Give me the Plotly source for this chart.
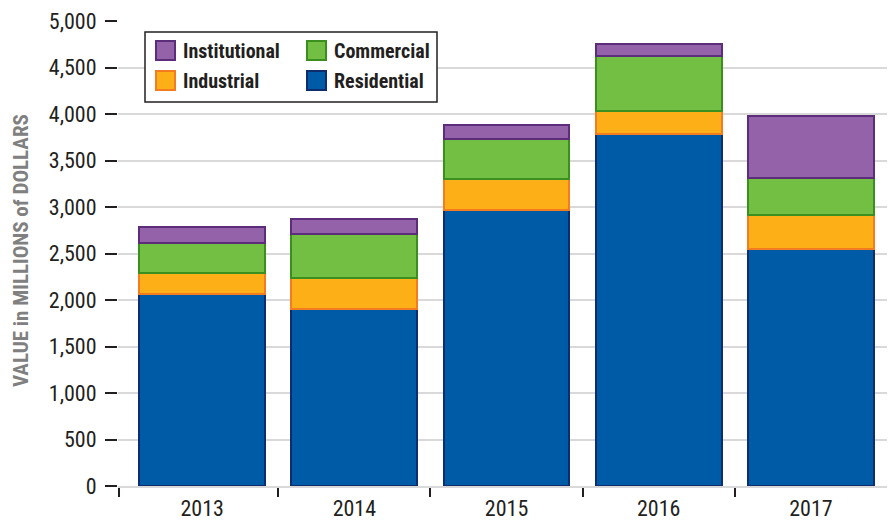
import plotly.graph_objects as go

# Values in millions of dollars
years = ['2013', '2014', '2015', '2016', '2017']
residential = [2065, 1905, 2965, 3785, 2550]
industrial = [222, 332, 335, 250, 361]
commercial = [322, 475, 436, 586, 404]
institutional = [178, 154, 143, 135, 664]

y_ticks = [0, 500, 1000, 1500, 2000, 2500, 3000, 3500, 4000, 4500, 5000]

FONT = 'Roboto Condensed, Roboto, sans-serif'
INK = '#231F20'

# name, values, fill, outline
series = [
    ('Residential', residential, '#005BA6', '#0F2D6E'),
    ('Industrial', industrial, '#FCAF17', '#F47C20'),
    ('Commercial', commercial, '#72BF44', '#3A8F1E'),
    ('Institutional', institutional, '#9462A8', '#5C2D7A'),
]

xpos = list(range(len(years)))

fig = go.Figure()
for name, vals, fill, edge in series:
    fig.add_trace(go.Bar(
        x=xpos, y=vals, name=name, showlegend=False,
        marker=dict(color=fill, line=dict(color=edge, width=2)),
    ))

# plot area in pixels (for placing the hand-made legend)
L, R, T, B = 118, 887, 21, 486
px = lambda x: (x - L) / (R - L)
py = lambda y: (B - y) / (B - T)

shapes = [dict(type='rect', xref='paper', yref='paper', layer='above',
               x0=px(145), x1=px(437), y0=py(102), y1=py(32),
               fillcolor='white', line=dict(color=INK, width=1.5))]
annotations = []
# legend layout: two rows, two columns
legend_slots = {'Institutional': (156, 41), 'Commercial': (307, 41),
                'Industrial': (156, 71), 'Residential': (307, 71)}
for name, vals, fill, edge in series:
    sx, sy = legend_slots[name]
    shapes.append(dict(type='rect', xref='paper', yref='paper', layer='above',
                       x0=px(sx), x1=px(sx + 19), y0=py(sy + 19), y1=py(sy),
                       fillcolor=fill, line=dict(color=edge, width=2)))
    annotations.append(dict(x=px(sx + 25), y=py(sy + 10), xref='paper', yref='paper',
                            xanchor='left', yanchor='middle', showarrow=False, text=name,
                            font=dict(family=FONT, size=20, color=INK, weight='bold')))

# rotated axis title
annotations.append(dict(x=px(21), y=py(251), xref='paper', yref='paper', textangle=-90,
                        xanchor='center', yanchor='middle', showarrow=False,
                        text='VALUE in MILLIONS of DOLLARS',
                        font=dict(family=FONT, size=21, color='#808080', weight='bold')))

fig.update_layout(
    barmode='stack',
    bargap=0.173,
    width=888, height=520,
    margin=dict(l=L, r=888 - R, t=T, b=520 - B, autoexpand=False),
    plot_bgcolor='white',
    paper_bgcolor='white',
    font=dict(family=FONT, color=INK, size=18),
    shapes=shapes,
    annotations=annotations,
)

fig.update_yaxes(
    range=[0, 5000], tickvals=y_ticks, tickformat=',', automargin=False,
    ticks='outside', ticklen=12, tickwidth=2, tickcolor=INK,
    ticklabelstandoff=4, tickfont=dict(size=22),
    showgrid=True, gridcolor='#D9D9D9', gridwidth=2,
    zeroline=False, showline=False,
)
# a little extra room before the first category; boundary ticks drawn as minor ticks
x_lo = -0.553
fig.update_xaxes(
    range=[x_lo, len(years) - 0.5],
    tickvals=xpos, ticktext=years, ticks='',
    minor=dict(tickvals=[x_lo + 0.004] + [i + 0.5 for i in xpos[:-1]],
               ticks='outside', ticklen=9, tickwidth=2, tickcolor=INK, showgrid=False),
    showline=True, linecolor='#D9D9D9', linewidth=2,
    showgrid=False, zeroline=False, automargin=False, ticklabelstandoff=2,
    tickfont=dict(size=22),
)

# drop the browser's default page margin so the figure sits at the top-left corner
fig.write_html('out.html', config={'displayModeBar': False},
               post_script="document.body.style.margin='0';")
